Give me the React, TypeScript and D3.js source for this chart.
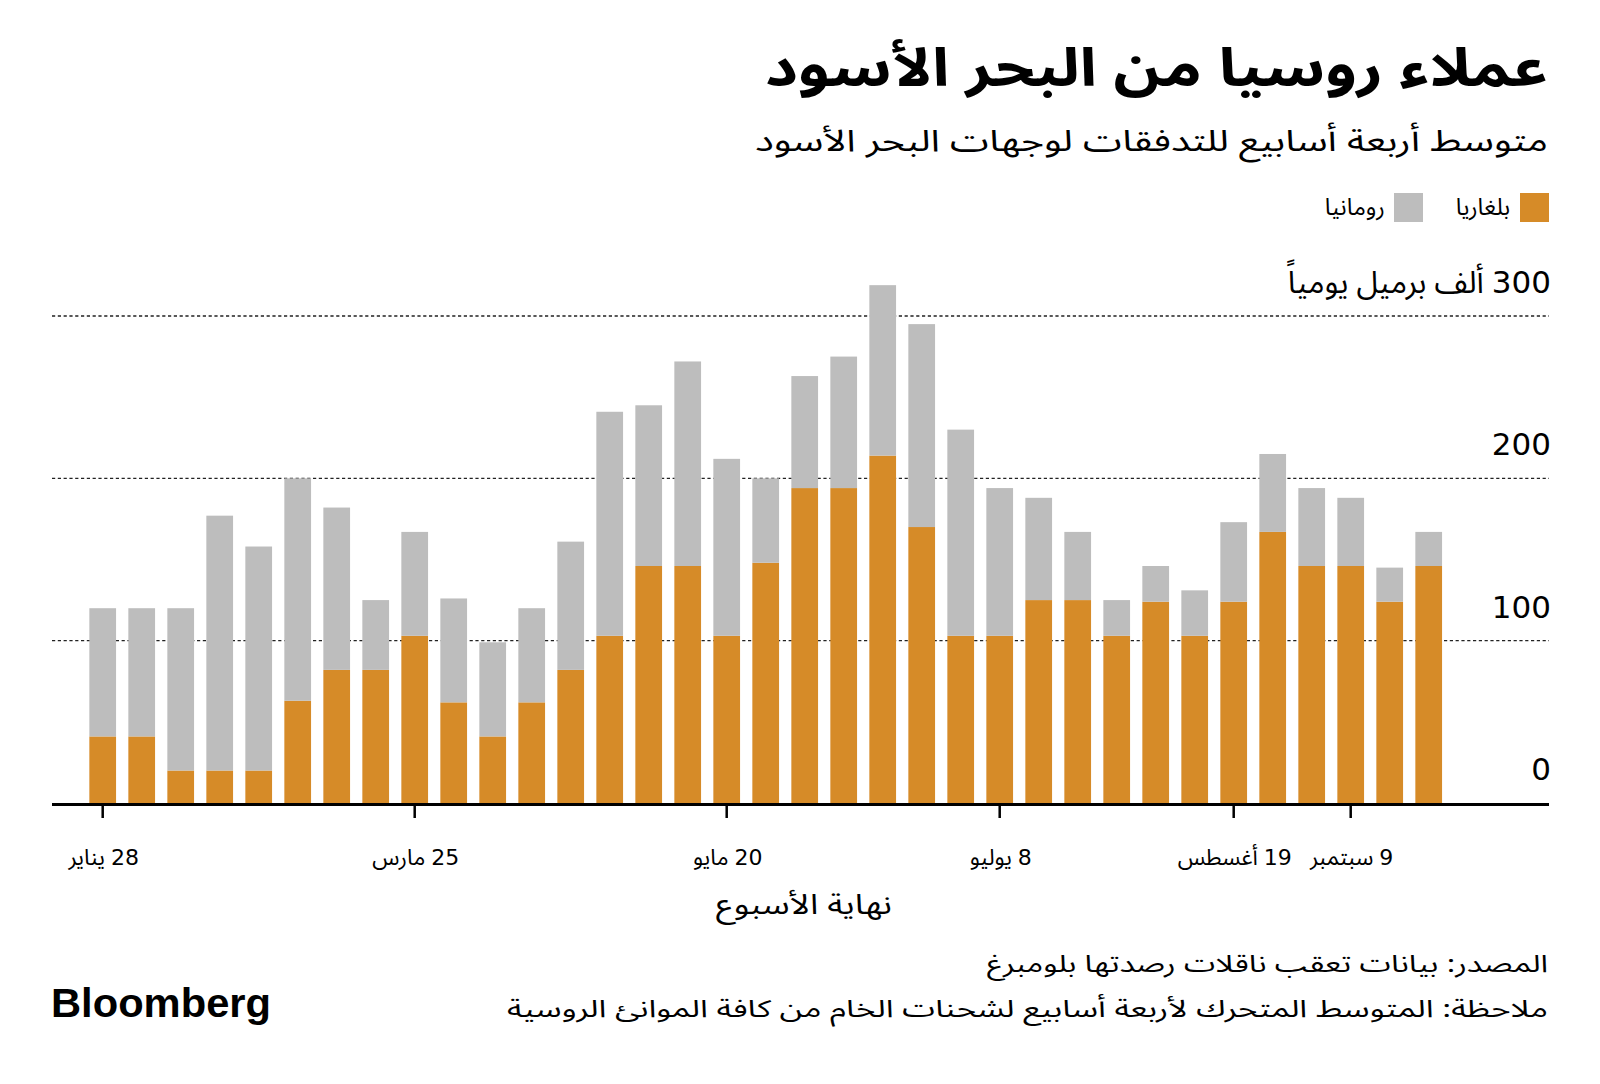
import React from 'react';
import * as d3 from 'd3';

const weeks = [
  '2023-01-28', '2023-02-04', '2023-02-11', '2023-02-18', '2023-02-25',
  '2023-03-04', '2023-03-11', '2023-03-18', '2023-03-25', '2023-04-01',
  '2023-04-08', '2023-04-15', '2023-04-22', '2023-04-29', '2023-05-06',
  '2023-05-13', '2023-05-20', '2023-05-27', '2023-06-03', '2023-06-10',
  '2023-06-17', '2023-06-24', '2023-07-01', '2023-07-08', '2023-07-15',
  '2023-07-22', '2023-07-29', '2023-08-05', '2023-08-12', '2023-08-19',
  '2023-08-26', '2023-09-02', '2023-09-09', '2023-09-16', '2023-09-23',
];

// thousand barrels per day
const bulgaria = [
  41, 41, 20, 20, 20, 63, 82, 82, 103, 62,
  41, 62, 82, 103, 146, 146, 103, 148, 194, 194,
  214, 170, 103, 103, 125, 125, 103, 124, 103, 124,
  167, 146, 146, 124, 146,
];

const romania = [
  79, 79, 100, 157, 138, 137, 100, 43, 64, 64,
  58, 58, 79, 138, 99, 126, 109, 52, 69, 81,
  105, 125, 127, 91, 63, 42, 22, 22, 28, 49,
  48, 48, 42, 21, 21,
];

const tickWeeks = ['2023-01-28', '2023-03-25', '2023-05-20', '2023-07-08', '2023-08-19', '2023-09-09'];
const tickDays = ['28', '25', '20', '8', '19', '9'];
const tickMonths = ['يناير', 'مارس', 'مايو', 'يوليو', 'أغسطس', 'سبتمبر'];

const yTicks = [0, 100, 200, 300];
const yUnit = 'ألف برميل يومياً';

const seriesNames = ['بلغاريا', 'رومانيا'];
const colors = ['#D68B28', '#BDBDBD'];

const title = 'عملاء روسيا من البحر الأسود';
const subtitle = 'متوسط أربعة أسابيع للتدفقات لوجهات البحر الأسود';
const xTitle = 'نهاية الأسبوع';
const source = 'المصدر: بيانات تعقب ناقلات رصدتها بلومبرغ';
const note = 'ملاحظة: المتوسط المتحرك لأربعة أسابيع لشحنات الخام من كافة الموانئ الروسية';

const AR = "'Noto Sans Arabic', 'DejaVu Sans', sans-serif";
const NUM = "'DejaVu Sans', sans-serif";

export default function App() {
  const W = 1600, H = 1084;
  const x0 = 83.2, step = 39;
  const x = d3.scaleBand<string>()
    .domain(weeks)
    .range([x0, x0 + step * weeks.length])
    .paddingInner(0.315)
    .paddingOuter(0.1575);
  const y = d3.scaleLinear().domain([0, 300]).range([803, 316]);

  const rows = weeks.map((w, i) => ({ week: w, bulgaria: bulgaria[i], romania: romania[i] }));
  const stack = d3.stack<any>().keys(['bulgaria', 'romania'])(rows);

  const gridL = 52, gridR = 1549;
  const fit = { lengthAdjust: 'spacingAndGlyphs' as const };

  return (
    <svg width={W} height={H} style={{ position: 'absolute', left: 0, top: 0, background: '#fff' }}>
      <rect width={W} height={H} fill="#fff" />
      <text x={1548} y={86} textAnchor="end" fontFamily={AR} fontWeight={700} fontSize={53} fill="#000" textLength={783} {...fit}>{title}</text>
      <text x={1548} y={151} textAnchor="end" fontFamily={AR} fontSize={30} fill="#000" textLength={793} {...fit}>{subtitle}</text>

      {/* legend */}
      <g fontFamily={AR} fontSize={23.5} fill="#000">
        <rect x={1520} y={193} width={29} height={29} fill={colors[0]} />
        <text x={1510} y={215} textAnchor="end">{seriesNames[0]}</text>
        <rect x={1394} y={193} width={29} height={29} fill={colors[1]} />
        <text x={1385} y={215} textAnchor="end">{seriesNames[1]}</text>
      </g>

      {/* grid */}
      {yTicks.filter(t => t > 0).map(t => (
        <line key={t} x1={gridL} x2={gridR} y1={y(t)} y2={y(t)} stroke="#222" strokeWidth={1.3} strokeDasharray="3.2 2.6" />
      ))}
      {yTicks.map(t => (
        <text key={t} x={1551} y={y(t) - 23} textAnchor="start" direction="rtl" style={{ direction: 'rtl' }} fill="#000">
          <tspan fontFamily={NUM} fontSize={31}>{`${t}`}</tspan>
          {t === 300 ? <tspan fontFamily={AR} fontSize={31}>{` ${yUnit}`}</tspan> : null}
        </text>
      ))}

      {/* bars */}
      {stack.map((s, si) => (
        <g key={si} fill={colors[si]}>
          {s.map((d: any, i: number) => (
            <rect key={i} x={x(weeks[i])} width={x.bandwidth()} y={y(d[1])} height={y(d[0]) - y(d[1])} />
          ))}
        </g>
      ))}

      {/* x axis */}
      <line x1={gridL} x2={gridR} y1={804.5} y2={804.5} stroke="#000" strokeWidth={3} />
      {tickWeeks.map((w, i) => {
        const cx = (x(w) as number) + x.bandwidth() / 2;
        return (
          <g key={w}>
            <line x1={cx} x2={cx} y1={806} y2={818} stroke="#000" strokeWidth={2.5} />
            <text x={cx + 1} y={865} textAnchor="middle" direction="rtl" style={{ direction: 'rtl' }} fill="#000">
              <tspan fontFamily={NUM} fontSize={22}>{tickDays[i]}</tspan>
              <tspan fontFamily={AR} fontSize={22.5}>{` ${tickMonths[i]}`}</tspan>
            </text>
          </g>
        );
      })}
      <text x={804} y={914} textAnchor="middle" fontFamily={AR} fontSize={28} fill="#000" textLength={176} {...fit}>{xTitle}</text>

      {/* footer */}
      <text x={1548} y={972} textAnchor="end" fontFamily={AR} fontSize={24} fill="#000" textLength={561} {...fit}>{source}</text>
      <text x={1548} y={1017} textAnchor="end" fontFamily={AR} fontSize={24} fill="#000" textLength={1041} {...fit}>{note}</text>
      <text x={51} y={1017} fontFamily="'Liberation Sans', Arial, sans-serif" fontWeight={700} fontSize={40} fill="#000" textLength={220} {...fit}>Bloomberg</text>
    </svg>
  );
}
